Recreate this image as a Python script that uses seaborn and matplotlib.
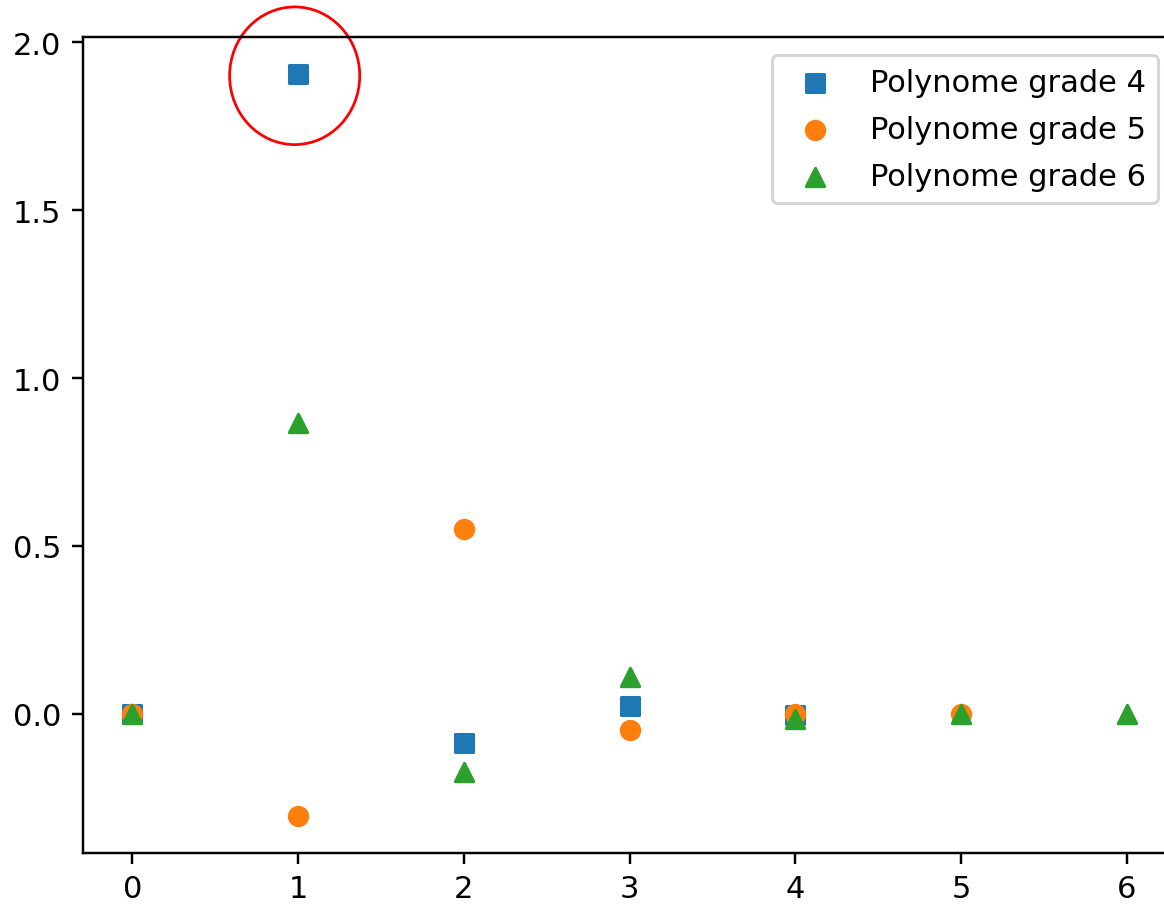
import matplotlib
matplotlib.use("Agg")
import matplotlib.pyplot as plt
from matplotlib.patches import Ellipse
import seaborn as sns

# coefficient values per polynomial grade
x_g4 = [0, 1, 2, 3, 4]
y_g4 = [0.0, 1.905, -0.086, 0.024, -0.003]

x_g5 = [0, 1, 2, 3, 4, 5]
y_g5 = [0.0, -0.304, 0.551, -0.048, 0.0, 0.0]

x_g6 = [0, 1, 2, 3, 4, 5, 6]
y_g6 = [0.0, 0.866, -0.173, 0.110, -0.015, 0.0, 0.0]

labels = ["Polynome grade 4", "Polynome grade 5", "Polynome grade 6"]
colors = ["#1f77b4", "#ff7f0e", "#2ca02c"]

dpi = 220
fig = plt.figure(figsize=(1164 / dpi, 905 / dpi), dpi=dpi)
# axes run slightly past the right edge, like the cropped screenshot
ax = fig.add_axes([82.5 / 1164, 51 / 905, 1094 / 1164, 816 / 905])

sns.scatterplot(x=x_g4, y=y_g4, marker="s", s=36, color=colors[0],
                edgecolor=colors[0], linewidth=1, label=labels[0], ax=ax)
sns.scatterplot(x=x_g5, y=y_g5, marker="o", s=36, color=colors[1],
                edgecolor=colors[1], linewidth=1, label=labels[1], ax=ax)
sns.scatterplot(x=x_g6, y=y_g6, marker="^", s=36, color=colors[2],
                edgecolor=colors[2], linewidth=1, label=labels[2], ax=ax)

ax.margins(0.05)
ax.set_xticks(range(7))
ax.set_yticks([0.0, 0.5, 1.0, 1.5, 2.0])
ax.legend(loc="upper right", labelspacing=0.6, borderaxespad=0.6)

# red highlight around the outlier
ring = Ellipse((0.98, 1.9), width=0.785, height=0.41, fill=False,
               edgecolor="red", linewidth=0.9, clip_on=False)
ax.add_artist(ring)

fig.savefig("out.png", dpi=dpi)
plt.close()
